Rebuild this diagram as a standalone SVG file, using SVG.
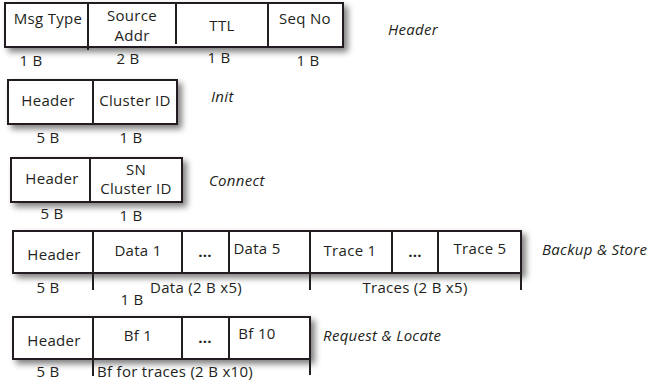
<svg xmlns="http://www.w3.org/2000/svg" width="649" height="386" viewBox="0 0 649 386">
<defs>
<filter id="sh" x="-10%" y="-30%" width="130%" height="180%">
<feGaussianBlur in="SourceAlpha" stdDeviation="3"/>
<feOffset dx="4" dy="4" result="b"/>
<feComponentTransfer><feFuncA type="linear" slope="0.5"/></feComponentTransfer>
<feMerge><feMergeNode/><feMergeNode in="SourceGraphic"/></feMerge>
</filter>
</defs>
<style>
.box{fill:#fff;stroke:#231f20;stroke-width:2}
.div{stroke:#231f20;stroke-width:2}
.t,.s,.i,.dots{font-family:"Open Sans","Liberation Sans",sans-serif;font-size:15px;letter-spacing:0.3px;fill:#231f20}
.t,.dots{text-anchor:middle}
.i{font-style:italic}
.dots{font-weight:bold}
</style>
<g id="header">
<rect class="box" x="5" y="3" width="338" height="44" filter="url(#sh)"/>
<line class="div" x1="88" y1="3" x2="88" y2="50"/>
<line class="div" x1="176" y1="3" x2="176" y2="44"/>
<line class="div" x1="268" y1="3" x2="268" y2="46"/>
<text class="t" x="48" y="24">Msg Type</text>
<text class="t" x="132" y="21">Source</text>
<text class="t" x="132" y="41">Addr</text>
<text class="t" x="222" y="31">TTL</text>
<text class="t" x="305" y="24">Seq No</text>
<text class="t" x="31" y="66">1 B</text>
<text class="t" x="128" y="64">2 B</text>
<text class="t" x="219" y="63">1 B</text>
<text class="t" x="308" y="66">1 B</text>
<text class="i" x="388" y="35">Header</text>
</g>
<g id="init">
<rect class="box" x="8" y="80" width="169" height="44" filter="url(#sh)"/>
<line class="div" x1="93" y1="80" x2="93" y2="124"/>
<text class="t" x="48" y="106">Header</text>
<text class="t" x="135" y="106">Cluster ID</text>
<text class="t" x="48" y="143">5 B</text>
<text class="t" x="131" y="143">1 B</text>
<text class="i" x="211" y="102">Init</text>
</g>
<g id="connect">
<rect class="box" x="11" y="158" width="171" height="44" filter="url(#sh)"/>
<line class="div" x1="90" y1="158" x2="90" y2="202"/>
<text class="t" x="52" y="184">Header</text>
<text class="t" x="136" y="175">SN</text>
<text class="t" x="136" y="194">Cluster ID</text>
<text class="t" x="52" y="219">5 B</text>
<text class="t" x="131" y="221">1 B</text>
<text class="i" x="209" y="186">Connect</text>
</g>
<g id="backup">
<rect class="box" x="13" y="231" width="508" height="42" filter="url(#sh)"/>
<line class="div" x1="93" y1="231" x2="93" y2="290"/>
<line class="div" x1="182" y1="231" x2="182" y2="273"/>
<line class="div" x1="229" y1="231" x2="229" y2="273"/>
<line class="div" x1="310" y1="231" x2="310" y2="290"/>
<line class="div" x1="392" y1="231" x2="392" y2="273"/>
<line class="div" x1="438" y1="231" x2="438" y2="273"/>
<line class="div" x1="521" y1="273" x2="521" y2="290"/>
<text class="t" x="54" y="260">Header</text>
<text class="t" x="138" y="256">Data 1</text>
<text class="dots" x="205" y="257">...</text>
<text class="t" x="257" y="254">Data 5</text>
<text class="t" x="350" y="256">Trace 1</text>
<text class="dots" x="415" y="257">...</text>
<text class="t" x="480" y="254">Trace 5</text>
<text class="t" x="48" y="293">5 B</text>
<text class="t" x="196" y="293">Data (2 B x5)</text>
<text class="t" x="132" y="305">1 B</text>
<text class="t" x="415" y="293">Traces (2 B x5)</text>
<text class="i" x="542" y="255">Backup &amp; Store</text>
</g>
<g id="request">
<rect class="box" x="13" y="317" width="297" height="42" filter="url(#sh)"/>
<line class="div" x1="93" y1="317" x2="93" y2="376"/>
<line class="div" x1="182" y1="317" x2="182" y2="359"/>
<line class="div" x1="229" y1="317" x2="229" y2="359"/>
<line class="div" x1="310" y1="359" x2="310" y2="375"/>
<text class="t" x="54" y="346">Header</text>
<text class="t" x="138" y="341">Bf 1</text>
<text class="dots" x="205" y="343">...</text>
<text class="t" x="257" y="339">Bf 10</text>
<text class="t" x="48" y="377">5 B</text>
<text class="s" x="97" y="377">Bf for traces (2 B x10)</text>
<text class="i" x="323" y="341">Request  &amp; Locate</text>
</g>
</svg>
